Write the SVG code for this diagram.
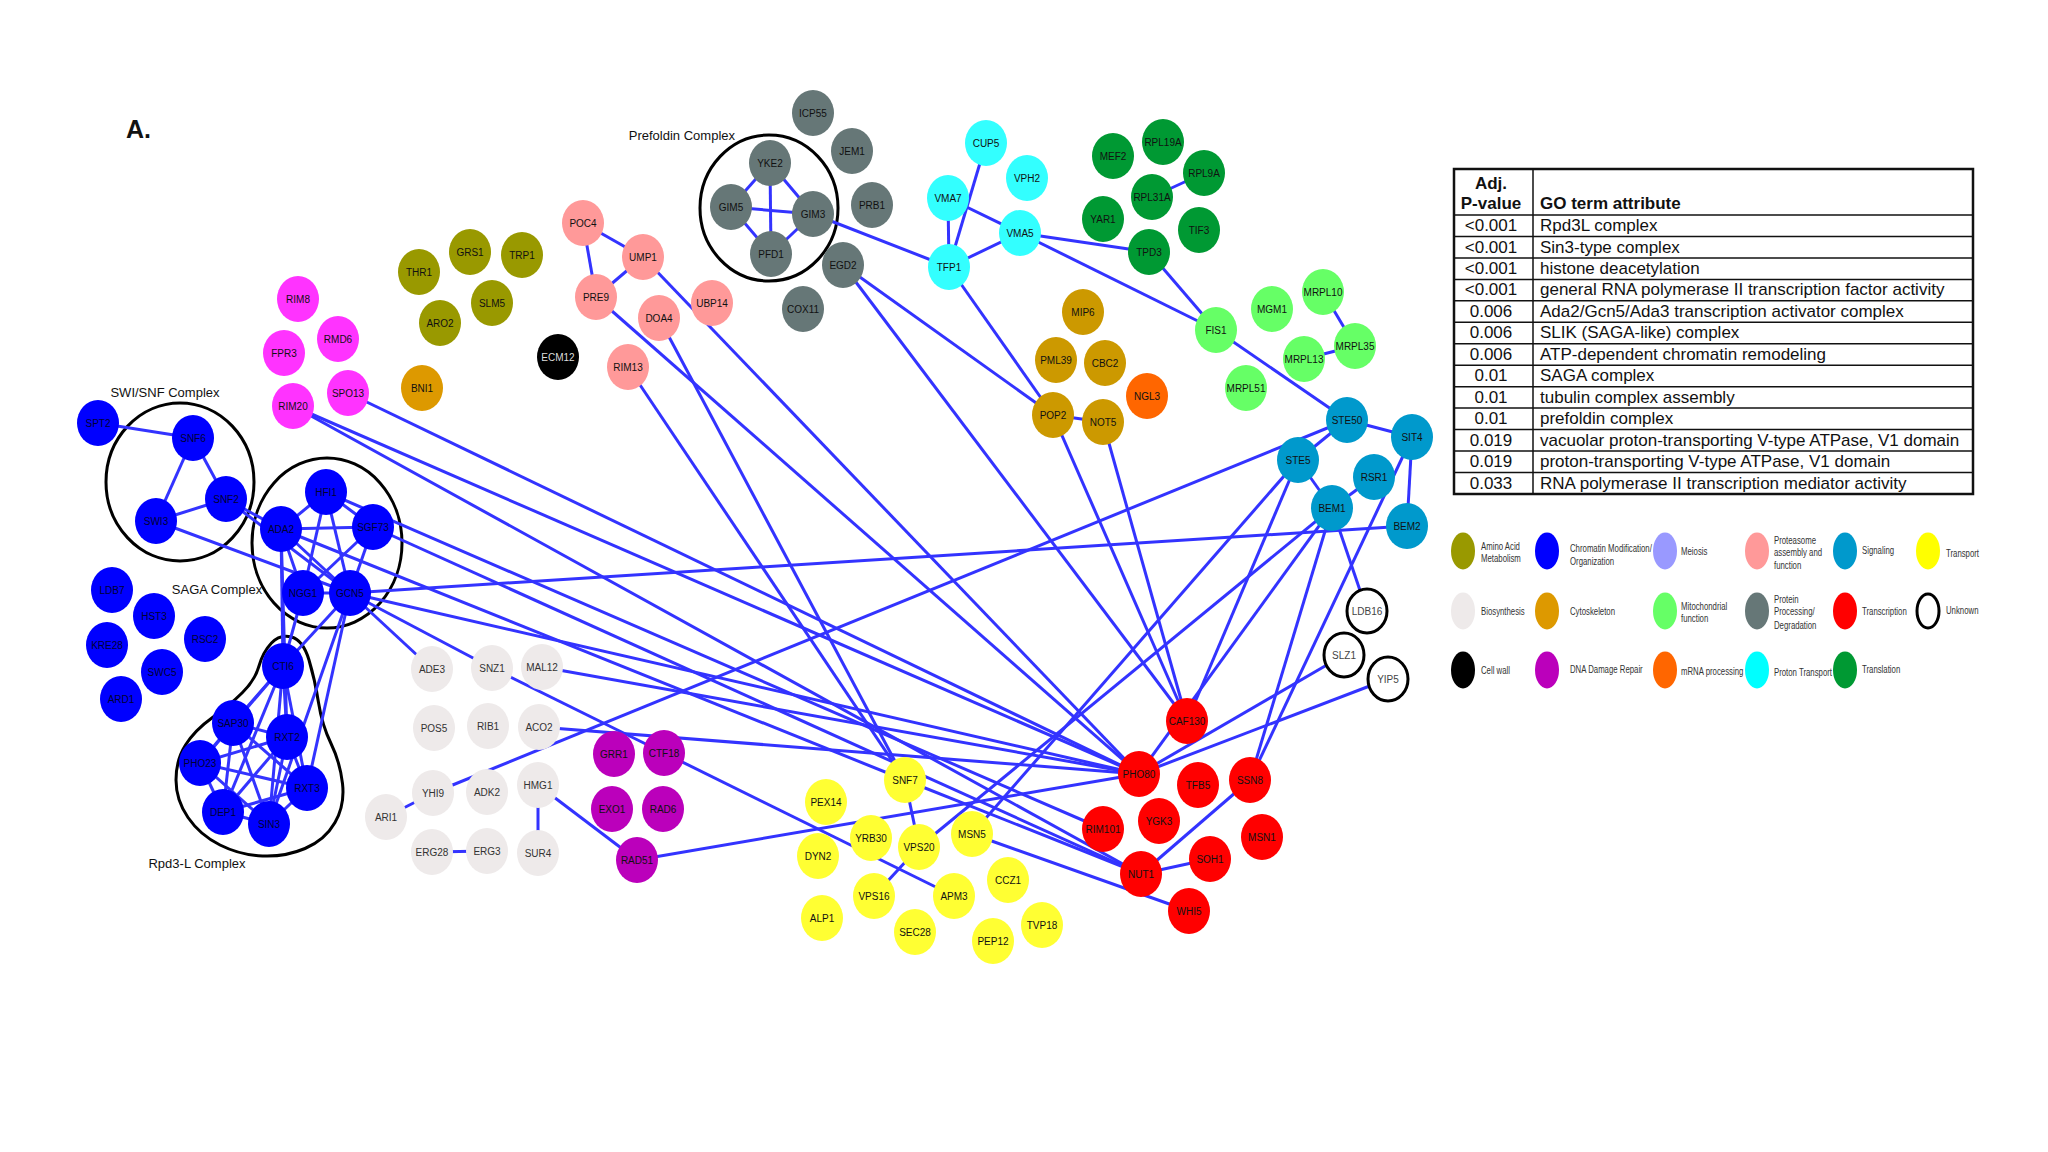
<svg xmlns="http://www.w3.org/2000/svg" width="2048" height="1152" viewBox="0 0 2048 1152">
<style>
text{font-family:"Liberation Sans",Arial,sans-serif}
.n text{font-size:10px;text-anchor:middle;fill:#111}
.aa ellipse{fill:#999900}.chr ellipse{fill:#0000FF}.mei ellipse{fill:#FF33FF}.pro ellipse{fill:#FF9999}
.sig ellipse{fill:#0099CC}.tra ellipse{fill:#FFFF33}.bio ellipse{fill:#EEEAEA}.cyt ellipse{fill:#CC9900}
.mit ellipse{fill:#66FF66}.ppd ellipse{fill:#667777}.trx ellipse{fill:#FF0000}.unk ellipse{fill:#fff;stroke:#000;stroke-width:3}
.cw ellipse{fill:#000}.dna ellipse{fill:#BB00BB}.mrna ellipse{fill:#FF6600}.prt ellipse{fill:#33FFFF}.tsl ellipse{fill:#009933}
.chr text{fill:#000033}.bio text{fill:#333}.unk text{fill:#444}.cw text{fill:#ddd}
#edges line{stroke:#3333FF;stroke-width:3}
.cplx{fill:none;stroke:#000;stroke-width:3}
.clab{font-size:13px;fill:#111}
.tb{font-size:17px;fill:#111}
.tbh{font-size:17px;font-weight:bold;fill:#111}
.lg text{font-size:10px;fill:#333}
</style>
<rect width="2048" height="1152" fill="#fff"/>
<text x="126" y="138" font-size="25" font-weight="bold" fill="#111">A.</text>

<g id="complexes">
<ellipse class="cplx" cx="180" cy="482" rx="74" ry="79"/>
<ellipse class="cplx" cx="327" cy="543" rx="75" ry="85"/>
<ellipse class="cplx" cx="769" cy="208" rx="69" ry="73"/>
<path class="cplx" d="M259,666 Q263,652 271.5,643 Q280,634 291.5,637 Q303,640 309,660 Q315,680 318.5,702.5 Q322,725 331,743.5 Q340,762 342.5,783.5 Q345,805 335,822.5 Q325,840 305,848.5 Q285,857 262.5,856 Q240,855 220,845 Q200,835 188,817.5 Q176,800 176,780 Q176,760 185.5,745 Q195,730 212.5,717.5 Q230,705 242.5,692.5 Q255,680 259,666 Z"/>
<text class="clab" x="165" y="397" text-anchor="middle">SWI/SNF Complex</text>
<text class="clab" x="217" y="594" text-anchor="middle">SAGA Complex</text>
<text class="clab" x="197" y="868" text-anchor="middle">Rpd3-L Complex</text>
<text class="clab" x="735" y="140" text-anchor="end">Prefoldin Complex</text>
</g>

<g id="edges">
<line x1="98" y1="423" x2="193" y2="438"/>
<line x1="193" y1="438" x2="226" y2="499"/>
<line x1="193" y1="438" x2="156" y2="521"/>
<line x1="226" y1="499" x2="156" y2="521"/>
<line x1="226" y1="499" x2="281" y2="529"/>
<line x1="156" y1="521" x2="350" y2="593"/>
<line x1="281" y1="529" x2="326" y2="492"/>
<line x1="281" y1="529" x2="373" y2="527"/>
<line x1="281" y1="529" x2="303" y2="593"/>
<line x1="281" y1="529" x2="350" y2="593"/>
<line x1="226" y1="499" x2="350" y2="593"/>
<line x1="326" y1="492" x2="373" y2="527"/>
<line x1="326" y1="492" x2="303" y2="593"/>
<line x1="326" y1="492" x2="350" y2="593"/>
<line x1="373" y1="527" x2="303" y2="593"/>
<line x1="373" y1="527" x2="350" y2="593"/>
<line x1="303" y1="593" x2="350" y2="593"/>
<line x1="281" y1="529" x2="283" y2="666"/>
<line x1="281" y1="529" x2="287" y2="737"/>
<line x1="303" y1="593" x2="283" y2="666"/>
<line x1="350" y1="593" x2="283" y2="666"/>
<line x1="350" y1="593" x2="307" y2="788"/>
<line x1="350" y1="593" x2="269" y2="824"/>
<line x1="283" y1="666" x2="233" y2="723"/>
<line x1="283" y1="666" x2="287" y2="737"/>
<line x1="283" y1="666" x2="200" y2="763"/>
<line x1="283" y1="666" x2="223" y2="812"/>
<line x1="283" y1="666" x2="269" y2="824"/>
<line x1="283" y1="666" x2="307" y2="788"/>
<line x1="233" y1="723" x2="287" y2="737"/>
<line x1="233" y1="723" x2="200" y2="763"/>
<line x1="233" y1="723" x2="223" y2="812"/>
<line x1="233" y1="723" x2="269" y2="824"/>
<line x1="233" y1="723" x2="307" y2="788"/>
<line x1="287" y1="737" x2="200" y2="763"/>
<line x1="287" y1="737" x2="223" y2="812"/>
<line x1="287" y1="737" x2="269" y2="824"/>
<line x1="287" y1="737" x2="307" y2="788"/>
<line x1="200" y1="763" x2="223" y2="812"/>
<line x1="200" y1="763" x2="269" y2="824"/>
<line x1="200" y1="763" x2="307" y2="788"/>
<line x1="223" y1="812" x2="269" y2="824"/>
<line x1="223" y1="812" x2="307" y2="788"/>
<line x1="269" y1="824" x2="307" y2="788"/>
<line x1="293" y1="406" x2="1139" y2="774"/>
<line x1="293" y1="406" x2="1141" y2="874"/>
<line x1="348" y1="393" x2="1139" y2="774"/>
<line x1="326" y1="492" x2="1103" y2="829"/>
<line x1="373" y1="527" x2="1141" y2="874"/>
<line x1="281" y1="529" x2="905" y2="780"/>
<line x1="350" y1="593" x2="1139" y2="774"/>
<line x1="350" y1="593" x2="1407" y2="526"/>
<line x1="350" y1="593" x2="432" y2="669"/>
<line x1="350" y1="593" x2="492" y2="668"/>
<line x1="542" y1="667" x2="1139" y2="774"/>
<line x1="539" y1="727" x2="1139" y2="774"/>
<line x1="492" y1="668" x2="664" y2="753"/>
<line x1="664" y1="753" x2="954" y2="896"/>
<line x1="433" y1="793" x2="1347" y2="420"/>
<line x1="433" y1="793" x2="386" y2="817"/>
<line x1="432" y1="852" x2="487" y2="851"/>
<line x1="538" y1="785" x2="538" y2="853"/>
<line x1="538" y1="785" x2="637" y2="860"/>
<line x1="637" y1="860" x2="1139" y2="774"/>
<line x1="583" y1="223" x2="643" y2="257"/>
<line x1="583" y1="223" x2="596" y2="297"/>
<line x1="643" y1="257" x2="596" y2="297"/>
<line x1="643" y1="257" x2="1139" y2="774"/>
<line x1="596" y1="297" x2="1139" y2="774"/>
<line x1="659" y1="318" x2="905" y2="780"/>
<line x1="628" y1="367" x2="905" y2="780"/>
<line x1="770" y1="163" x2="731" y2="207"/>
<line x1="770" y1="163" x2="813" y2="214"/>
<line x1="770" y1="163" x2="771" y2="254"/>
<line x1="731" y1="207" x2="813" y2="214"/>
<line x1="731" y1="207" x2="771" y2="254"/>
<line x1="813" y1="214" x2="771" y2="254"/>
<line x1="813" y1="214" x2="949" y2="267"/>
<line x1="843" y1="265" x2="1053" y2="415"/>
<line x1="843" y1="265" x2="1187" y2="721"/>
<line x1="949" y1="267" x2="1053" y2="415"/>
<line x1="986" y1="143" x2="949" y2="267"/>
<line x1="948" y1="198" x2="949" y2="267"/>
<line x1="948" y1="198" x2="1020" y2="233"/>
<line x1="1020" y1="233" x2="949" y2="267"/>
<line x1="1020" y1="233" x2="1149" y2="252"/>
<line x1="1020" y1="233" x2="1216" y2="330"/>
<line x1="1149" y1="252" x2="1216" y2="330"/>
<line x1="1152" y1="197" x2="1204" y2="173"/>
<line x1="1216" y1="330" x2="1347" y2="420"/>
<line x1="1323" y1="292" x2="1355" y2="346"/>
<line x1="1304" y1="359" x2="1355" y2="346"/>
<line x1="1347" y1="420" x2="1412" y2="437"/>
<line x1="1347" y1="420" x2="1298" y2="460"/>
<line x1="1298" y1="460" x2="1332" y2="508"/>
<line x1="1374" y1="477" x2="1332" y2="508"/>
<line x1="1412" y1="437" x2="1407" y2="526"/>
<line x1="1332" y1="508" x2="1367" y2="611"/>
<line x1="1053" y1="415" x2="1103" y2="422"/>
<line x1="1053" y1="415" x2="1187" y2="721"/>
<line x1="1103" y1="422" x2="1187" y2="721"/>
<line x1="1298" y1="460" x2="1187" y2="721"/>
<line x1="1298" y1="460" x2="972" y2="834"/>
<line x1="1332" y1="508" x2="919" y2="847"/>
<line x1="1332" y1="508" x2="1139" y2="774"/>
<line x1="1332" y1="508" x2="1250" y2="780"/>
<line x1="1412" y1="437" x2="1250" y2="780"/>
<line x1="1139" y1="774" x2="1344" y2="655"/>
<line x1="1139" y1="774" x2="1388" y2="679"/>
<line x1="972" y1="834" x2="1189" y2="911"/>
<line x1="905" y1="780" x2="1141" y2="874"/>
<line x1="1141" y1="874" x2="1250" y2="780"/>
<line x1="1141" y1="874" x2="1210" y2="859"/>
<line x1="905" y1="780" x2="919" y2="847"/>
<line x1="919" y1="847" x2="874" y2="896"/>
</g>

<g id="nodes">
<g id="n-SPT2" class="n chr"><ellipse cx="98" cy="423" rx="21" ry="23"/><text x="98" y="427">SPT2</text></g>
<g id="n-SNF6" class="n chr"><ellipse cx="193" cy="438" rx="21" ry="23"/><text x="193" y="442">SNF6</text></g>
<g id="n-SNF2" class="n chr"><ellipse cx="226" cy="499" rx="21" ry="23"/><text x="226" y="503">SNF2</text></g>
<g id="n-SWI3" class="n chr"><ellipse cx="156" cy="521" rx="21" ry="23"/><text x="156" y="525">SWI3</text></g>
<g id="n-HFI1" class="n chr"><ellipse cx="326" cy="492" rx="21" ry="23"/><text x="326" y="496">HFI1</text></g>
<g id="n-SGF73" class="n chr"><ellipse cx="373" cy="527" rx="21" ry="23"/><text x="373" y="531">SGF73</text></g>
<g id="n-ADA2" class="n chr"><ellipse cx="281" cy="529" rx="21" ry="23"/><text x="281" y="533">ADA2</text></g>
<g id="n-NGG1" class="n chr"><ellipse cx="303" cy="593" rx="21" ry="23"/><text x="303" y="597">NGG1</text></g>
<g id="n-GCN5" class="n chr"><ellipse cx="350" cy="593" rx="21" ry="23"/><text x="350" y="597">GCN5</text></g>
<g id="n-LDB7" class="n chr"><ellipse cx="112" cy="590" rx="21" ry="23"/><text x="112" y="594">LDB7</text></g>
<g id="n-HST3" class="n chr"><ellipse cx="154" cy="616" rx="21" ry="23"/><text x="154" y="620">HST3</text></g>
<g id="n-KRE28" class="n chr"><ellipse cx="107" cy="645" rx="21" ry="23"/><text x="107" y="649">KRE28</text></g>
<g id="n-RSC2" class="n chr"><ellipse cx="205" cy="639" rx="21" ry="23"/><text x="205" y="643">RSC2</text></g>
<g id="n-SWC5" class="n chr"><ellipse cx="162" cy="672" rx="21" ry="23"/><text x="162" y="676">SWC5</text></g>
<g id="n-ARD1" class="n chr"><ellipse cx="121" cy="699" rx="21" ry="23"/><text x="121" y="703">ARD1</text></g>
<g id="n-CTI6" class="n chr"><ellipse cx="283" cy="666" rx="21" ry="23"/><text x="283" y="670">CTI6</text></g>
<g id="n-SAP30" class="n chr"><ellipse cx="233" cy="723" rx="21" ry="23"/><text x="233" y="727">SAP30</text></g>
<g id="n-RXT2" class="n chr"><ellipse cx="287" cy="737" rx="21" ry="23"/><text x="287" y="741">RXT2</text></g>
<g id="n-PHO23" class="n chr"><ellipse cx="200" cy="763" rx="21" ry="23"/><text x="200" y="767">PHO23</text></g>
<g id="n-RXT3" class="n chr"><ellipse cx="307" cy="788" rx="21" ry="23"/><text x="307" y="792">RXT3</text></g>
<g id="n-DEP1" class="n chr"><ellipse cx="223" cy="812" rx="21" ry="23"/><text x="223" y="816">DEP1</text></g>
<g id="n-SIN3" class="n chr"><ellipse cx="269" cy="824" rx="21" ry="23"/><text x="269" y="828">SIN3</text></g>

<g id="n-RIM8" class="n mei"><ellipse cx="298" cy="299" rx="21" ry="23"/><text x="298" y="303">RIM8</text></g>
<g id="n-RMD6" class="n mei"><ellipse cx="338" cy="339" rx="21" ry="23"/><text x="338" y="343">RMD6</text></g>
<g id="n-FPR3" class="n mei"><ellipse cx="284" cy="353" rx="21" ry="23"/><text x="284" y="357">FPR3</text></g>
<g id="n-SPO13" class="n mei"><ellipse cx="348" cy="393" rx="21" ry="23"/><text x="348" y="397">SPO13</text></g>
<g id="n-RIM20" class="n mei"><ellipse cx="293" cy="406" rx="21" ry="23"/><text x="293" y="410">RIM20</text></g>

<g id="n-THR1" class="n aa"><ellipse cx="419" cy="272" rx="21" ry="23"/><text x="419" y="276">THR1</text></g>
<g id="n-GRS1" class="n aa"><ellipse cx="470" cy="252" rx="21" ry="23"/><text x="470" y="256">GRS1</text></g>
<g id="n-TRP1" class="n aa"><ellipse cx="522" cy="255" rx="21" ry="23"/><text x="522" y="259">TRP1</text></g>
<g id="n-SLM5" class="n aa"><ellipse cx="492" cy="303" rx="21" ry="23"/><text x="492" y="307">SLM5</text></g>
<g id="n-ARO2" class="n aa"><ellipse cx="440" cy="323" rx="21" ry="23"/><text x="440" y="327">ARO2</text></g>

<g id="n-BNI1" class="n cyt"><ellipse cx="422" cy="388" rx="21" ry="23" style="fill:#DD9900"/><text x="422" y="392">BNI1</text></g>
<g id="n-MIP6" class="n cyt"><ellipse cx="1083" cy="312" rx="21" ry="23"/><text x="1083" y="316">MIP6</text></g>
<g id="n-PML39" class="n cyt"><ellipse cx="1056" cy="360" rx="21" ry="23"/><text x="1056" y="364">PML39</text></g>
<g id="n-CBC2" class="n cyt"><ellipse cx="1105" cy="363" rx="21" ry="23"/><text x="1105" y="367">CBC2</text></g>
<g id="n-POP2" class="n cyt"><ellipse cx="1053" cy="415" rx="21" ry="23"/><text x="1053" y="419">POP2</text></g>
<g id="n-NOT5" class="n cyt"><ellipse cx="1103" cy="422" rx="21" ry="23"/><text x="1103" y="426">NOT5</text></g>
<g id="n-NGL3" class="n mrna"><ellipse cx="1147" cy="396" rx="21" ry="23"/><text x="1147" y="400">NGL3</text></g>
<g id="n-ECM12" class="n cw"><ellipse cx="558" cy="357" rx="21" ry="23"/><text x="558" y="361">ECM12</text></g>

<g id="n-POC4" class="n pro"><ellipse cx="583" cy="223" rx="21" ry="23"/><text x="583" y="227">POC4</text></g>
<g id="n-UMP1" class="n pro"><ellipse cx="643" cy="257" rx="21" ry="23"/><text x="643" y="261">UMP1</text></g>
<g id="n-PRE9" class="n pro"><ellipse cx="596" cy="297" rx="21" ry="23"/><text x="596" y="301">PRE9</text></g>
<g id="n-DOA4" class="n pro"><ellipse cx="659" cy="318" rx="21" ry="23"/><text x="659" y="322">DOA4</text></g>
<g id="n-UBP14" class="n pro"><ellipse cx="712" cy="303" rx="21" ry="23"/><text x="712" y="307">UBP14</text></g>
<g id="n-RIM13" class="n pro"><ellipse cx="628" cy="367" rx="21" ry="23"/><text x="628" y="371">RIM13</text></g>

<g id="n-ICP55" class="n ppd"><ellipse cx="813" cy="113" rx="21" ry="23"/><text x="813" y="117">ICP55</text></g>
<g id="n-JEM1" class="n ppd"><ellipse cx="852" cy="151" rx="21" ry="23"/><text x="852" y="155">JEM1</text></g>
<g id="n-PRB1" class="n ppd"><ellipse cx="872" cy="205" rx="21" ry="23"/><text x="872" y="209">PRB1</text></g>
<g id="n-YKE2" class="n ppd"><ellipse cx="770" cy="163" rx="21" ry="23"/><text x="770" y="167">YKE2</text></g>
<g id="n-GIM5" class="n ppd"><ellipse cx="731" cy="207" rx="21" ry="23"/><text x="731" y="211">GIM5</text></g>
<g id="n-GIM3" class="n ppd"><ellipse cx="813" cy="214" rx="21" ry="23"/><text x="813" y="218">GIM3</text></g>
<g id="n-PFD1" class="n ppd"><ellipse cx="771" cy="254" rx="21" ry="23"/><text x="771" y="258">PFD1</text></g>
<g id="n-EGD2" class="n ppd"><ellipse cx="843" cy="265" rx="21" ry="23"/><text x="843" y="269">EGD2</text></g>
<g id="n-COX11" class="n ppd"><ellipse cx="803" cy="309" rx="21" ry="23"/><text x="803" y="313">COX11</text></g>

<g id="n-CUP5" class="n prt"><ellipse cx="986" cy="143" rx="21" ry="23"/><text x="986" y="147">CUP5</text></g>
<g id="n-VPH2" class="n prt"><ellipse cx="1027" cy="178" rx="21" ry="23"/><text x="1027" y="182">VPH2</text></g>
<g id="n-VMA7" class="n prt"><ellipse cx="948" cy="198" rx="21" ry="23"/><text x="948" y="202">VMA7</text></g>
<g id="n-VMA5" class="n prt"><ellipse cx="1020" cy="233" rx="21" ry="23"/><text x="1020" y="237">VMA5</text></g>
<g id="n-TFP1" class="n prt"><ellipse cx="949" cy="267" rx="21" ry="23"/><text x="949" y="271">TFP1</text></g>

<g id="n-MEF2" class="n tsl"><ellipse cx="1113" cy="156" rx="21" ry="23"/><text x="1113" y="160">MEF2</text></g>
<g id="n-RPL19A" class="n tsl"><ellipse cx="1163" cy="142" rx="21" ry="23"/><text x="1163" y="146">RPL19A</text></g>
<g id="n-RPL9A" class="n tsl"><ellipse cx="1204" cy="173" rx="21" ry="23"/><text x="1204" y="177">RPL9A</text></g>
<g id="n-RPL31A" class="n tsl"><ellipse cx="1152" cy="197" rx="21" ry="23"/><text x="1152" y="201">RPL31A</text></g>
<g id="n-YAR1" class="n tsl"><ellipse cx="1103" cy="219" rx="21" ry="23"/><text x="1103" y="223">YAR1</text></g>
<g id="n-TIF3" class="n tsl"><ellipse cx="1199" cy="230" rx="21" ry="23"/><text x="1199" y="234">TIF3</text></g>
<g id="n-TPD3" class="n tsl"><ellipse cx="1149" cy="252" rx="21" ry="23"/><text x="1149" y="256">TPD3</text></g>

<g id="n-FIS1" class="n mit"><ellipse cx="1216" cy="330" rx="21" ry="23"/><text x="1216" y="334">FIS1</text></g>
<g id="n-MGM1" class="n mit"><ellipse cx="1272" cy="309" rx="21" ry="23"/><text x="1272" y="313">MGM1</text></g>
<g id="n-MRPL10" class="n mit"><ellipse cx="1323" cy="292" rx="21" ry="23"/><text x="1323" y="296">MRPL10</text></g>
<g id="n-MRPL35" class="n mit"><ellipse cx="1355" cy="346" rx="21" ry="23"/><text x="1355" y="350">MRPL35</text></g>
<g id="n-MRPL13" class="n mit"><ellipse cx="1304" cy="359" rx="21" ry="23"/><text x="1304" y="363">MRPL13</text></g>
<g id="n-MRPL51" class="n mit"><ellipse cx="1246" cy="388" rx="21" ry="23"/><text x="1246" y="392">MRPL51</text></g>

<g id="n-STE50" class="n sig"><ellipse cx="1347" cy="420" rx="21" ry="23"/><text x="1347" y="424">STE50</text></g>
<g id="n-SIT4" class="n sig"><ellipse cx="1412" cy="437" rx="21" ry="23"/><text x="1412" y="441">SIT4</text></g>
<g id="n-STE5" class="n sig"><ellipse cx="1298" cy="460" rx="21" ry="23"/><text x="1298" y="464">STE5</text></g>
<g id="n-RSR1" class="n sig"><ellipse cx="1374" cy="477" rx="21" ry="23"/><text x="1374" y="481">RSR1</text></g>
<g id="n-BEM1" class="n sig"><ellipse cx="1332" cy="508" rx="21" ry="23"/><text x="1332" y="512">BEM1</text></g>
<g id="n-BEM2" class="n sig"><ellipse cx="1407" cy="526" rx="21" ry="23"/><text x="1407" y="530">BEM2</text></g>

<g id="n-LDB16" class="n unk"><ellipse cx="1367" cy="611" rx="20" ry="22"/><text x="1367" y="615">LDB16</text></g>
<g id="n-SLZ1" class="n unk"><ellipse cx="1344" cy="655" rx="20" ry="22"/><text x="1344" y="659">SLZ1</text></g>
<g id="n-YIP5" class="n unk"><ellipse cx="1388" cy="679" rx="20" ry="22"/><text x="1388" y="683">YIP5</text></g>

<g id="n-ADE3" class="n bio"><ellipse cx="432" cy="669" rx="21" ry="23"/><text x="432" y="673">ADE3</text></g>
<g id="n-SNZ1" class="n bio"><ellipse cx="492" cy="668" rx="21" ry="23"/><text x="492" y="672">SNZ1</text></g>
<g id="n-MAL12" class="n bio"><ellipse cx="542" cy="667" rx="21" ry="23"/><text x="542" y="671">MAL12</text></g>
<g id="n-POS5" class="n bio"><ellipse cx="434" cy="728" rx="21" ry="23"/><text x="434" y="732">POS5</text></g>
<g id="n-RIB1" class="n bio"><ellipse cx="488" cy="726" rx="21" ry="23"/><text x="488" y="730">RIB1</text></g>
<g id="n-ACO2" class="n bio"><ellipse cx="539" cy="727" rx="21" ry="23"/><text x="539" y="731">ACO2</text></g>
<g id="n-YHI9" class="n bio"><ellipse cx="433" cy="793" rx="21" ry="23"/><text x="433" y="797">YHI9</text></g>
<g id="n-ADK2" class="n bio"><ellipse cx="487" cy="792" rx="21" ry="23"/><text x="487" y="796">ADK2</text></g>
<g id="n-HMG1" class="n bio"><ellipse cx="538" cy="785" rx="21" ry="23"/><text x="538" y="789">HMG1</text></g>
<g id="n-ARI1" class="n bio"><ellipse cx="386" cy="817" rx="21" ry="23"/><text x="386" y="821">ARI1</text></g>
<g id="n-ERG28" class="n bio"><ellipse cx="432" cy="852" rx="21" ry="23"/><text x="432" y="856">ERG28</text></g>
<g id="n-ERG3" class="n bio"><ellipse cx="487" cy="851" rx="21" ry="23"/><text x="487" y="855">ERG3</text></g>
<g id="n-SUR4" class="n bio"><ellipse cx="538" cy="853" rx="21" ry="23"/><text x="538" y="857">SUR4</text></g>

<g id="n-GRR1" class="n dna"><ellipse cx="614" cy="754" rx="21" ry="23"/><text x="614" y="758">GRR1</text></g>
<g id="n-CTF18" class="n dna"><ellipse cx="664" cy="753" rx="21" ry="23"/><text x="664" y="757">CTF18</text></g>
<g id="n-EXO1" class="n dna"><ellipse cx="612" cy="809" rx="21" ry="23"/><text x="612" y="813">EXO1</text></g>
<g id="n-RAD6" class="n dna"><ellipse cx="663" cy="809" rx="21" ry="23"/><text x="663" y="813">RAD6</text></g>
<g id="n-RAD51" class="n dna"><ellipse cx="637" cy="860" rx="21" ry="23"/><text x="637" y="864">RAD51</text></g>

<g id="n-SNF7" class="n tra"><ellipse cx="905" cy="780" rx="21" ry="23"/><text x="905" y="784">SNF7</text></g>
<g id="n-PEX14" class="n tra"><ellipse cx="826" cy="802" rx="21" ry="23"/><text x="826" y="806">PEX14</text></g>
<g id="n-YRB30" class="n tra"><ellipse cx="871" cy="838" rx="21" ry="23"/><text x="871" y="842">YRB30</text></g>
<g id="n-DYN2" class="n tra"><ellipse cx="818" cy="856" rx="21" ry="23"/><text x="818" y="860">DYN2</text></g>
<g id="n-VPS20" class="n tra"><ellipse cx="919" cy="847" rx="21" ry="23"/><text x="919" y="851">VPS20</text></g>
<g id="n-MSN5" class="n tra"><ellipse cx="972" cy="834" rx="21" ry="23"/><text x="972" y="838">MSN5</text></g>
<g id="n-CCZ1" class="n tra"><ellipse cx="1008" cy="880" rx="21" ry="23"/><text x="1008" y="884">CCZ1</text></g>
<g id="n-VPS16" class="n tra"><ellipse cx="874" cy="896" rx="21" ry="23"/><text x="874" y="900">VPS16</text></g>
<g id="n-APM3" class="n tra"><ellipse cx="954" cy="896" rx="21" ry="23"/><text x="954" y="900">APM3</text></g>
<g id="n-ALP1" class="n tra"><ellipse cx="822" cy="918" rx="21" ry="23"/><text x="822" y="922">ALP1</text></g>
<g id="n-SEC28" class="n tra"><ellipse cx="915" cy="932" rx="21" ry="23"/><text x="915" y="936">SEC28</text></g>
<g id="n-PEP12" class="n tra"><ellipse cx="993" cy="941" rx="21" ry="23"/><text x="993" y="945">PEP12</text></g>
<g id="n-TVP18" class="n tra"><ellipse cx="1042" cy="925" rx="21" ry="23"/><text x="1042" y="929">TVP18</text></g>

<g id="n-CAF130" class="n trx"><ellipse cx="1187" cy="721" rx="21" ry="23"/><text x="1187" y="725">CAF130</text></g>
<g id="n-PHO80" class="n trx"><ellipse cx="1139" cy="774" rx="21" ry="23"/><text x="1139" y="778">PHO80</text></g>
<g id="n-TFB5" class="n trx"><ellipse cx="1198" cy="785" rx="21" ry="23"/><text x="1198" y="789">TFB5</text></g>
<g id="n-SSN8" class="n trx"><ellipse cx="1250" cy="780" rx="21" ry="23"/><text x="1250" y="784">SSN8</text></g>
<g id="n-YGK3" class="n trx"><ellipse cx="1159" cy="821" rx="21" ry="23"/><text x="1159" y="825">YGK3</text></g>
<g id="n-RIM101" class="n trx"><ellipse cx="1103" cy="829" rx="21" ry="23"/><text x="1103" y="833">RIM101</text></g>
<g id="n-SOH1" class="n trx"><ellipse cx="1210" cy="859" rx="21" ry="23"/><text x="1210" y="863">SOH1</text></g>
<g id="n-MSN1" class="n trx"><ellipse cx="1262" cy="837" rx="21" ry="23"/><text x="1262" y="841">MSN1</text></g>
<g id="n-NUT1" class="n trx"><ellipse cx="1141" cy="874" rx="21" ry="23"/><text x="1141" y="878">NUT1</text></g>
<g id="n-WHI5" class="n trx"><ellipse cx="1189" cy="911" rx="21" ry="23"/><text x="1189" y="915">WHI5</text></g>
</g>

<g id="table">
<rect x="1454" y="169" width="519" height="325" fill="#fff" stroke="#111" stroke-width="2.5"/>
<g stroke="#111" stroke-width="1.5">
<line x1="1533" y1="169" x2="1533" y2="494"/>
<line x1="1454" y1="215" x2="1973" y2="215"/>
<line x1="1454" y1="236.5" x2="1973" y2="236.5"/>
<line x1="1454" y1="258" x2="1973" y2="258"/>
<line x1="1454" y1="279.4" x2="1973" y2="279.4"/>
<line x1="1454" y1="300.8" x2="1973" y2="300.8"/>
<line x1="1454" y1="322.3" x2="1973" y2="322.3"/>
<line x1="1454" y1="343.8" x2="1973" y2="343.8"/>
<line x1="1454" y1="365.2" x2="1973" y2="365.2"/>
<line x1="1454" y1="386.7" x2="1973" y2="386.7"/>
<line x1="1454" y1="408.1" x2="1973" y2="408.1"/>
<line x1="1454" y1="429.6" x2="1973" y2="429.6"/>
<line x1="1454" y1="451" x2="1973" y2="451"/>
<line x1="1454" y1="472.5" x2="1973" y2="472.5"/>
</g>
<text class="tbh" x="1491" y="189" text-anchor="middle">Adj.</text>
<text class="tbh" x="1491" y="209" text-anchor="middle">P-value</text>
<text class="tbh" x="1540" y="209">GO term attribute</text>
<g class="tb" text-anchor="middle">
<text class="tb" x="1491" y="231">&lt;0.001</text>
<text class="tb" x="1491" y="252.5">&lt;0.001</text>
<text class="tb" x="1491" y="274">&lt;0.001</text>
<text class="tb" x="1491" y="295.4">&lt;0.001</text>
<text class="tb" x="1491" y="316.8">0.006</text>
<text class="tb" x="1491" y="338.3">0.006</text>
<text class="tb" x="1491" y="359.8">0.006</text>
<text class="tb" x="1491" y="381.2">0.01</text>
<text class="tb" x="1491" y="402.7">0.01</text>
<text class="tb" x="1491" y="424.1">0.01</text>
<text class="tb" x="1491" y="445.6">0.019</text>
<text class="tb" x="1491" y="467">0.019</text>
<text class="tb" x="1491" y="488.5">0.033</text>
</g>
<text class="tb" x="1540" y="231">Rpd3L complex</text>
<text class="tb" x="1540" y="252.5">Sin3-type complex</text>
<text class="tb" x="1540" y="274">histone deacetylation</text>
<text class="tb" x="1540" y="295.4">general RNA polymerase II transcription factor activity</text>
<text class="tb" x="1540" y="316.8">Ada2/Gcn5/Ada3 transcription activator complex</text>
<text class="tb" x="1540" y="338.3">SLIK (SAGA-like) complex</text>
<text class="tb" x="1540" y="359.8">ATP-dependent chromatin remodeling</text>
<text class="tb" x="1540" y="381.2">SAGA complex</text>
<text class="tb" x="1540" y="402.7">tubulin complex assembly</text>
<text class="tb" x="1540" y="424.1">prefoldin complex</text>
<text class="tb" x="1540" y="445.6">vacuolar proton-transporting V-type ATPase, V1 domain</text>
<text class="tb" x="1540" y="467">proton-transporting V-type ATPase, V1 domain</text>
<text class="tb" x="1540" y="488.5">RNA polymerase II transcription mediator activity</text>
</g>

<g id="legend" class="lg">
<ellipse cx="1463" cy="551" rx="12" ry="18.5" fill="#999900"/>
<ellipse cx="1547" cy="551" rx="12" ry="18.5" fill="#0000FF"/>
<ellipse cx="1665" cy="551" rx="12" ry="18.5" fill="#9999FF"/>
<ellipse cx="1757" cy="551" rx="12" ry="18.5" fill="#FF9999"/>
<ellipse cx="1845" cy="551" rx="12" ry="18.5" fill="#0099CC"/>
<ellipse cx="1928" cy="551" rx="12" ry="18.5" fill="#FFFF00"/>
<ellipse cx="1463" cy="611" rx="12" ry="18.5" fill="#EEEAEA"/>
<ellipse cx="1547" cy="611" rx="12" ry="18.5" fill="#DD9900"/>
<ellipse cx="1665" cy="611" rx="12" ry="18.5" fill="#66FF66"/>
<ellipse cx="1757" cy="611" rx="12" ry="18.5" fill="#667777"/>
<ellipse cx="1845" cy="611" rx="12" ry="18.5" fill="#FF0000"/>
<ellipse cx="1928" cy="611" rx="11" ry="17" fill="#fff" stroke="#000" stroke-width="3"/>
<ellipse cx="1463" cy="670" rx="12" ry="18.5" fill="#000"/>
<ellipse cx="1547" cy="670" rx="12" ry="18.5" fill="#BB00BB"/>
<ellipse cx="1665" cy="670" rx="12" ry="18.5" fill="#FF6600"/>
<ellipse cx="1757" cy="670" rx="12" ry="18.5" fill="#00FFFF"/>
<ellipse cx="1845" cy="670" rx="12" ry="18.5" fill="#009933"/>
<text transform="translate(1481,549.5) scale(0.78,1)"><tspan x="0">Amino Acid</tspan><tspan x="0" dy="13">Metabolism</tspan></text>
<text transform="translate(1570,551.5) scale(0.78,1)"><tspan x="0">Chromatin Modification/</tspan><tspan x="0" dy="14">Organization</tspan></text>
<text transform="translate(1681,554.5) scale(0.78,1)">Meiosis</text>
<text transform="translate(1774,543.5) scale(0.78,1)"><tspan x="0">Proteasome</tspan><tspan x="0" dy="13">assembly and</tspan><tspan x="0" dy="13">function</tspan></text>
<text transform="translate(1862,553.5) scale(0.78,1)">Signaling</text>
<text transform="translate(1946,556.5) scale(0.78,1)">Transport</text>
<text transform="translate(1481,614.5) scale(0.78,1)">Biosynthesis</text>
<text transform="translate(1570,614.5) scale(0.78,1)">Cytoskeleton</text>
<text transform="translate(1681,609.5) scale(0.78,1)"><tspan x="0">Mitochondrial</tspan><tspan x="0" dy="13">function</tspan></text>
<text transform="translate(1774,602.5) scale(0.78,1)"><tspan x="0">Protein</tspan><tspan x="0" dy="13">Processing/</tspan><tspan x="0" dy="14">Degradation</tspan></text>
<text transform="translate(1862,614.5) scale(0.78,1)">Transcription</text>
<text transform="translate(1946,613.5) scale(0.78,1)">Unknown</text>
<text transform="translate(1481,673.5) scale(0.78,1)">Cell wall</text>
<text transform="translate(1570,672.5) scale(0.78,1)">DNA Damage Repair</text>
<text transform="translate(1681,674.5) scale(0.78,1)">mRNA processing</text>
<text transform="translate(1774,675.5) scale(0.78,1)">Proton Transport</text>
<text transform="translate(1862,672.5) scale(0.78,1)">Translation</text>
</g>
</svg>
